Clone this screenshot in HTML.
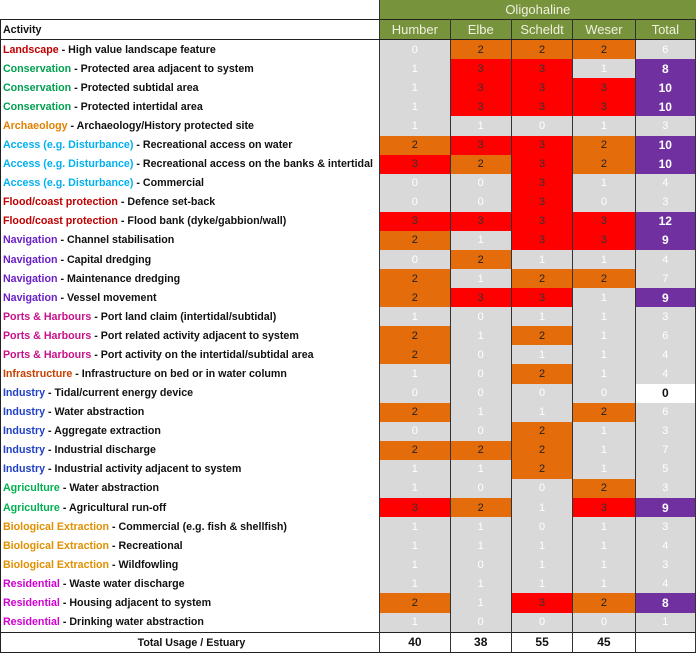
<!DOCTYPE html>
<html><head><meta charset="utf-8"><style>
body{margin:0;background:#fff;width:698px;height:652px;overflow:hidden;font-family:"Liberation Sans",sans-serif}
table{position:absolute;left:0;top:0;border-collapse:collapse;table-layout:fixed}
td{padding:0;height:19.08px;text-align:center;font-size:11px;line-height:14px;border-left:1.5px solid #333;border-right:1.5px solid #333}
td.l{text-align:left;border-left:1.5px solid #222;border-right:none;overflow:hidden;white-space:nowrap}
td.l span.t{display:inline-block;transform:scaleX(0.97);transform-origin:left center;font-size:11px;font-weight:bold;color:#111;padding-left:2px}
.g{background:#d9d9d9;color:#fff}
.o{background:#e46c0a;color:#222}
.r{background:#ff0000;color:#333}
.p{background:#7030a0;color:#fff;font-weight:bold;font-size:12px}
.w{background:#fff;color:#111;font-weight:bold;font-size:12px}
.h{background:#77933c;color:#f0f0e0;font-size:13px}
.c1{color:#c00000}.c2{color:#00a050}.c3{color:#e08000}.c4{color:#00b0f0}.c6{color:#6a20c8}.c7{color:#c8108a}.c8{color:#c84000}.c9{color:#2040c8}.c10{color:#00b050}.c11{color:#e09000}.c12{color:#d000d0}
tr.top td.l{border-left:none}
tr.act td{border-top:1.5px solid #222;border-bottom:1.5px solid #222}
tr.tot td{border-top:1.5px solid #222;border-bottom:1.5px solid #222;background:#fff;font-weight:bold;color:#111;font-size:12px}
</style></head><body>
<table style="width:696px">
<colgroup><col style="width:377px"><col style="width:70px"><col style="width:61px"><col style="width:61px"><col style="width:62px"><col style="width:60px"></colgroup>
<tr class="top"><td class="l" style="border-right:1.5px solid #333"></td><td class="h" colspan="5" style="border:none">Oligohaline</td></tr>
<tr class="act"><td class="l"><span class="t">Activity</span></td><td class="h">Humber</td><td class="h">Elbe</td><td class="h">Scheldt</td><td class="h">Weser</td><td class="h">Total</td></tr>
<tr><td class="l"><span class="t"><span class="c1">Landscape</span> - High value landscape feature</span></td><td class="g">0</td><td class="o">2</td><td class="o">2</td><td class="o">2</td><td class="g">6</td></tr>
<tr><td class="l"><span class="t"><span class="c2">Conservation</span> - Protected area adjacent to system</span></td><td class="g">1</td><td class="r">3</td><td class="r">3</td><td class="g">1</td><td class="p">8</td></tr>
<tr><td class="l"><span class="t"><span class="c2">Conservation</span> - Protected subtidal area</span></td><td class="g">1</td><td class="r">3</td><td class="r">3</td><td class="r">3</td><td class="p">10</td></tr>
<tr><td class="l"><span class="t"><span class="c2">Conservation</span> - Protected intertidal area</span></td><td class="g">1</td><td class="r">3</td><td class="r">3</td><td class="r">3</td><td class="p">10</td></tr>
<tr><td class="l"><span class="t"><span class="c3">Archaeology</span> - Archaeology/History protected site</span></td><td class="g">1</td><td class="g">1</td><td class="g">0</td><td class="g">1</td><td class="g">3</td></tr>
<tr><td class="l"><span class="t"><span class="c4">Access (e.g. Disturbance)</span> - Recreational access on water</span></td><td class="o">2</td><td class="r">3</td><td class="r">3</td><td class="o">2</td><td class="p">10</td></tr>
<tr><td class="l"><span class="t"><span class="c4">Access (e.g. Disturbance)</span> - Recreational access on the banks &amp; intertidal</span></td><td class="r">3</td><td class="o">2</td><td class="r">3</td><td class="o">2</td><td class="p">10</td></tr>
<tr><td class="l"><span class="t"><span class="c4">Access (e.g. Disturbance)</span> - Commercial</span></td><td class="g">0</td><td class="g">0</td><td class="r">3</td><td class="g">1</td><td class="g">4</td></tr>
<tr><td class="l"><span class="t"><span class="c1">Flood/coast protection</span> - Defence set-back</span></td><td class="g">0</td><td class="g">0</td><td class="r">3</td><td class="g">0</td><td class="g">3</td></tr>
<tr><td class="l"><span class="t"><span class="c1">Flood/coast protection</span> - Flood bank (dyke/gabbion/wall)</span></td><td class="r">3</td><td class="r">3</td><td class="r">3</td><td class="r">3</td><td class="p">12</td></tr>
<tr><td class="l"><span class="t"><span class="c6">Navigation</span> - Channel stabilisation</span></td><td class="o">2</td><td class="g">1</td><td class="r">3</td><td class="r">3</td><td class="p">9</td></tr>
<tr><td class="l"><span class="t"><span class="c6">Navigation</span> - Capital dredging</span></td><td class="g">0</td><td class="o">2</td><td class="g">1</td><td class="g">1</td><td class="g">4</td></tr>
<tr><td class="l"><span class="t"><span class="c6">Navigation</span> - Maintenance dredging</span></td><td class="o">2</td><td class="g">1</td><td class="o">2</td><td class="o">2</td><td class="g">7</td></tr>
<tr><td class="l"><span class="t"><span class="c6">Navigation</span> - Vessel movement</span></td><td class="o">2</td><td class="r">3</td><td class="r">3</td><td class="g">1</td><td class="p">9</td></tr>
<tr><td class="l"><span class="t"><span class="c7">Ports &amp; Harbours</span> - Port land claim (intertidal/subtidal)</span></td><td class="g">1</td><td class="g">0</td><td class="g">1</td><td class="g">1</td><td class="g">3</td></tr>
<tr><td class="l"><span class="t"><span class="c7">Ports &amp; Harbours</span> - Port related activity adjacent to system</span></td><td class="o">2</td><td class="g">1</td><td class="o">2</td><td class="g">1</td><td class="g">6</td></tr>
<tr><td class="l"><span class="t"><span class="c7">Ports &amp; Harbours</span> - Port activity on the intertidal/subtidal area</span></td><td class="o">2</td><td class="g">0</td><td class="g">1</td><td class="g">1</td><td class="g">4</td></tr>
<tr><td class="l"><span class="t"><span class="c8">Infrastructure</span> - Infrastructure on bed or in water column</span></td><td class="g">1</td><td class="g">0</td><td class="o">2</td><td class="g">1</td><td class="g">4</td></tr>
<tr><td class="l"><span class="t"><span class="c9">Industry</span> - Tidal/current energy device</span></td><td class="g">0</td><td class="g">0</td><td class="g">0</td><td class="g">0</td><td class="w">0</td></tr>
<tr><td class="l"><span class="t"><span class="c9">Industry</span> - Water abstraction</span></td><td class="o">2</td><td class="g">1</td><td class="g">1</td><td class="o">2</td><td class="g">6</td></tr>
<tr><td class="l"><span class="t"><span class="c9">Industry</span> - Aggregate extraction</span></td><td class="g">0</td><td class="g">0</td><td class="o">2</td><td class="g">1</td><td class="g">3</td></tr>
<tr><td class="l"><span class="t"><span class="c9">Industry</span> - Industrial discharge</span></td><td class="o">2</td><td class="o">2</td><td class="o">2</td><td class="g">1</td><td class="g">7</td></tr>
<tr><td class="l"><span class="t"><span class="c9">Industry</span> - Industrial activity adjacent to system</span></td><td class="g">1</td><td class="g">1</td><td class="o">2</td><td class="g">1</td><td class="g">5</td></tr>
<tr><td class="l"><span class="t"><span class="c10">Agriculture</span> - Water abstraction</span></td><td class="g">1</td><td class="g">0</td><td class="g">0</td><td class="o">2</td><td class="g">3</td></tr>
<tr><td class="l"><span class="t"><span class="c10">Agriculture</span> - Agricultural run-off</span></td><td class="r">3</td><td class="o">2</td><td class="g">1</td><td class="r">3</td><td class="p">9</td></tr>
<tr><td class="l"><span class="t"><span class="c11">Biological Extraction</span> - Commercial (e.g. fish &amp; shellfish)</span></td><td class="g">1</td><td class="g">1</td><td class="g">0</td><td class="g">1</td><td class="g">3</td></tr>
<tr><td class="l"><span class="t"><span class="c11">Biological Extraction</span> - Recreational</span></td><td class="g">1</td><td class="g">1</td><td class="g">1</td><td class="g">1</td><td class="g">4</td></tr>
<tr><td class="l"><span class="t"><span class="c11">Biological Extraction</span> - Wildfowling</span></td><td class="g">1</td><td class="g">0</td><td class="g">1</td><td class="g">1</td><td class="g">3</td></tr>
<tr><td class="l"><span class="t"><span class="c12">Residential</span> - Waste water discharge</span></td><td class="g">1</td><td class="g">1</td><td class="g">1</td><td class="g">1</td><td class="g">4</td></tr>
<tr><td class="l"><span class="t"><span class="c12">Residential</span> - Housing adjacent to system</span></td><td class="o">2</td><td class="g">1</td><td class="r">3</td><td class="o">2</td><td class="p">8</td></tr>
<tr><td class="l"><span class="t"><span class="c12">Residential</span> - Drinking water abstraction</span></td><td class="g">1</td><td class="g">0</td><td class="g">0</td><td class="g">0</td><td class="g">1</td></tr>
<tr class="tot"><td class="l" style="text-align:center"><span class="t" style="transform-origin:center">Total Usage / Estuary</span></td><td>40</td><td>38</td><td>55</td><td>45</td><td></td></tr>
</table>
</body></html>
